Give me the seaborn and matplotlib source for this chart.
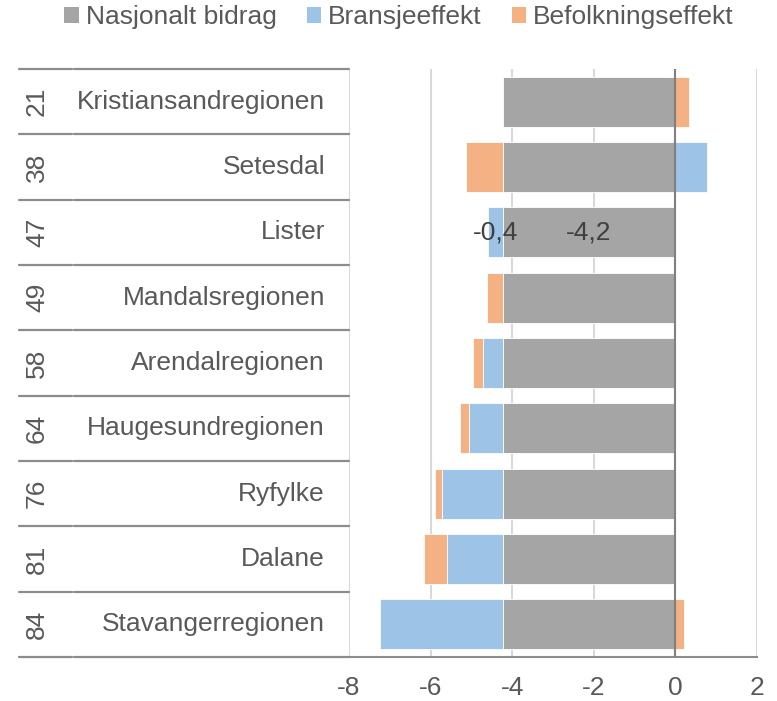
import numpy as np
import pandas as pd
import matplotlib
matplotlib.use("Agg")
import matplotlib.pyplot as plt
import matplotlib.transforms as mtransforms
from matplotlib.lines import Line2D
from matplotlib.patches import Patch
import seaborn as sns

# ---- data ----
regions = ["Kristiansandregionen", "Setesdal", "Lister", "Mandalsregionen",
           "Arendalregionen", "Haugesundregionen", "Ryfylke", "Dalane",
           "Stavangerregionen"]
ranks = ["21", "38", "47", "49", "58", "64", "76", "81", "84"]
nasjonalt = [-4.23, -4.23, -4.23, -4.23, -4.23, -4.23, -4.23, -4.23, -4.23]
bransje = [0.0, 0.77, -0.36, 0.0, -0.48, -0.82, -1.49, -1.38, -3.01]
befolkning = [0.34, -0.91, 0.0, -0.38, -0.24, -0.24, -0.16, -0.54, 0.22]
series_names = ["Nasjonalt bidrag", "Bransjeeffekt", "Befolkningseffekt"]
colors = ["#A5A5A5", "#9DC3E6", "#F4B183"]
xticks = [-8, -6, -4, -2, 0, 2]
label_row = "Lister"
label_texts = {"Nasjonalt bidrag": "-4,2", "Bransjeeffekt": "-0,4"}

sns.set_theme(style="white")
plt.rcParams["font.family"] = ["Liberation Sans", "DejaVu Sans"]
plt.rcParams["axes.unicode_minus"] = False
TXT = "#595959"
FS = 19

fig = plt.figure(figsize=(7.77, 7.01), dpi=100)
W, H = 777, 701
ax = fig.add_axes([349 / W, (H - 657) / H, 408 / W, 588 / H])

# stacking (Excel-style: positives and negatives stack separately)
df = pd.DataFrame({"region": regions, series_names[0]: nasjonalt,
                   series_names[1]: bransje, series_names[2]: befolkning})
pos_base = np.zeros(len(regions))
neg_base = np.zeros(len(regions))
segments = {}
for name, col in zip(series_names, colors):
    vals = df[name].to_numpy(dtype=float)
    left = np.where(vals >= 0, pos_base, neg_base)
    segments[name] = (left.copy(), vals.copy())
    sns.barplot(x=vals, y=regions, order=regions, orient="y", ax=ax,
                color=col, saturation=1, width=0.77, errorbar=None,
                left=left, edgecolor="white", linewidth=0.6, zorder=3)
    pos_base = np.where(vals >= 0, pos_base + vals, pos_base)
    neg_base = np.where(vals < 0, neg_base + vals, neg_base)

ax.set_xlim(-8, 2)
ax.set_ylim(len(regions) - 0.5, -0.5)
ax.set_xticks(xticks)
ax.set_xticklabels([str(t) for t in xticks], fontsize=FS, color=TXT)
ax.tick_params(axis="x", length=0, pad=14)
ax.set_yticks([])
ax.set_xlabel("")
ax.set_ylabel("")
ax.xaxis.grid(True, color="#D9D9D9", linewidth=1.5, zorder=0)
ax.set_axisbelow(True)
for s in ["left", "top", "right"]:
    ax.spines[s].set_visible(False)
ax.spines["bottom"].set_color("#8C8C8C")
ax.spines["bottom"].set_linewidth(1.5)
ax.axvline(0, color="#808080", linewidth=1.5, zorder=4)

# data labels on Lister
i = regions.index(label_row)
for name, txt in label_texts.items():
    left, vals = segments[name]
    ax.text(left[i] + vals[i] / 2, i, txt, ha="center", va="center",
            fontsize=FS, color="#404040", zorder=5)

# left category table
tr = mtransforms.blended_transform_factory(fig.transFigure, ax.transData)
for b in np.arange(len(regions) + 1) - 0.5:
    for x0, x1 in [(19, 72), (74, 349)]:
        fig.add_artist(Line2D([x0 / W, x1 / W], [b, b], transform=tr,
                              color="#8C8C8C", linewidth=1.6))
for k, (name, rk) in enumerate(zip(regions, ranks)):
    fig.text(325 / W, k, name, transform=tr, ha="right", va="center",
             fontsize=FS, color=TXT)
    fig.text(37 / W, k, rk, transform=tr, ha="center", va="center",
             rotation=90, fontsize=FS, color=TXT)

# legend
handles = [Patch(facecolor=c, edgecolor="none") for c in colors]
fig.legend(handles, series_names, loc="center", bbox_to_anchor=(399 / W, 1 - 17 / H),
           ncol=3, frameon=False, fontsize=FS, labelcolor=TXT,
           handlelength=0.55, handleheight=0.55, handletextpad=0.25,
           columnspacing=1.15, borderaxespad=0)

fig.savefig("out.png", dpi=100)
